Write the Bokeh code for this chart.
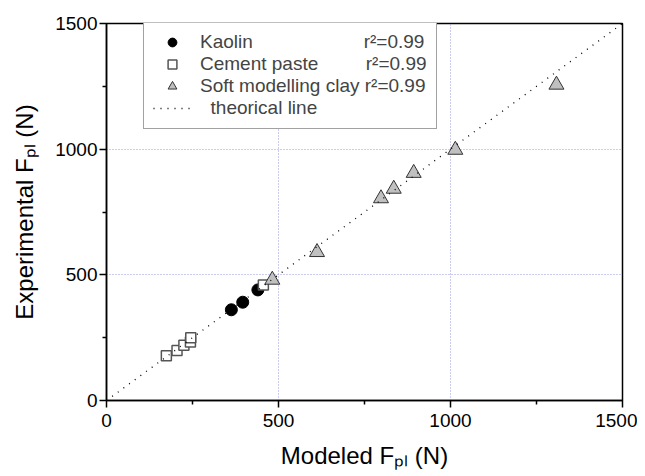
from bokeh.plotting import figure
from bokeh.models import Legend, LegendItem, FixedTicker, Range1d
from bokeh.embed import file_html
from bokeh.resources import INLINE

# ---- data ----
kaolin_x = [363, 396, 440]
kaolin_y = [361, 391, 440]
cement_x = [174, 205, 225, 244, 245, 456]
cement_y = [178, 199, 220, 233, 250, 460]
clay_x = [482, 612, 798, 835, 893, 1014, 1308]
clay_y = [480, 590, 804, 842, 905, 997, 1256]
theory_x = [0, 1500]
theory_y = [0, 1500]
major_ticks = [0, 500, 1000, 1500]
minor_ticks = [250, 750, 1250]
grid_ticks = [500, 1000]
r2_text = "r\u00b2=0.99"

FONT = "Liberation Sans"
NB = "\u00a0"

p = figure(frame_width=516, frame_height=377,
           min_border_left=106, min_border_right=15,
           min_border_top=23, min_border_bottom=74,
           x_range=Range1d(0, 1500), y_range=Range1d(0, 1500),
           output_backend="svg", toolbar_location=None)

p.background_fill_color = "white"
p.border_fill_color = "white"
p.outline_line_color = "black"
p.outline_line_width = 1.5

for ax in (p.xaxis, p.yaxis):
    ax.ticker = FixedTicker(ticks=major_ticks, minor_ticks=minor_ticks)
    ax.axis_line_color = "black"
    ax.axis_line_width = 1.5
    ax.major_tick_line_color = "black"
    ax.major_tick_line_width = 1.5
    ax.minor_tick_line_color = "black"
    ax.minor_tick_line_width = 1.5
    ax.major_tick_in = 0
    ax.major_tick_out = 7
    ax.minor_tick_in = 0
    ax.minor_tick_out = 4
    ax.major_label_text_font = FONT
    ax.major_label_text_font_size = "19px"
    ax.major_label_text_color = "black"
    ax.axis_label_text_font = FONT
    ax.axis_label_text_font_size = "24px"
    ax.axis_label_text_font_style = "normal"
    ax.axis_label_text_color = "black"
p.xaxis.major_label_standoff = 6
p.yaxis.major_label_standoff = 2
p.xaxis.axis_label = "Modeled F\u209a\u2097 (N)"
p.yaxis.axis_label = "Experimental F\u209a\u2097 (N)"
p.xaxis.axis_label_standoff = 12
p.yaxis.axis_label_standoff = 14

for g in (p.xgrid, p.ygrid):
    g.ticker = FixedTicker(ticks=grid_ticks)
    g.grid_line_color = "#9999dd"
    g.grid_line_dash = "1 2"
    g.grid_line_width = 1

r_k = p.scatter(kaolin_x, kaolin_y, marker="circle", size=12,
                fill_color="black", line_color="black")
r_c = p.scatter(cement_x, cement_y, marker="square", size=10,
                fill_color="white", line_color="#555555", line_width=1.5)
r_s = p.scatter(clay_x, clay_y, marker="triangle", size=15,
                fill_color="#c0c0c0", line_color="#333333", line_width=1)
r_l = p.line(theory_x, theory_y, line_color="black", line_dash="1 6", line_width=1.3)

legend = Legend(items=[
    LegendItem(label="Kaolin" + NB * 21 + r2_text, renderers=[r_k]),
    LegendItem(label="Cement paste" + NB * 9 + r2_text, renderers=[r_c]),
    LegendItem(label="Soft modelling clay " + r2_text, renderers=[r_s]),
    LegendItem(label=NB * 2 + "theorical line", renderers=[r_l]),
], location=(37, 271), margin=0, padding=9, spacing=0,
   glyph_width=38, glyph_height=22, label_height=22, label_standoff=9,
   label_text_font=FONT, label_text_font_size="19px",
   border_line_color="#444444", border_line_width=1,
   background_fill_color="white", background_fill_alpha=1)
p.add_layout(legend, "center")

open("out.html", "w").write(file_html(p, INLINE))
